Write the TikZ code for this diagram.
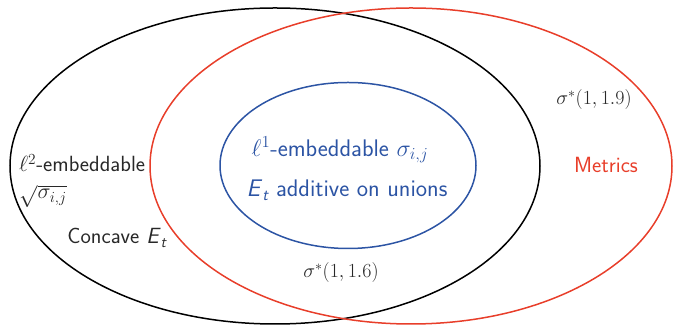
\RequirePackage{fix-cm}
\documentclass[tikz,border=0pt]{standalone}
\definecolor{vred}{RGB}{232,62,42}
\definecolor{vblue}{RGB}{44,84,164}
\definecolor{vtext}{RGB}{40,40,40}
\newcommand\Et{\textit{E}\textsubscript{\itshape t}}
\tikzset{
  setline/.style={line width=1.5pt},
  lbl/.style={inner sep=0pt, font=\fontsize{22}{26}\selectfont\sffamily, text=vtext},
  blbl/.style={inner sep=0pt, font=\fontsize{24}{28}\selectfont\sffamily, text=vblue},
  mlbl/.style={inner sep=0pt, font=\fontsize{20}{24}\selectfont, text=vtext},
}
\begin{document}
\begin{tikzpicture}[x=1pt,y=1pt]
\useasboundingbox (0,0) rectangle (673,331);
\draw[setline, black] (275,165) ellipse [x radius=265, y radius=158];
\draw[setline, vred] (411,165) ellipse [x radius=261, y radius=158];
\draw[setline, vblue] (348,165.5) ellipse [x radius=128, y radius=83];
\node[lbl, anchor=base west, align=left] (l2) at (19,132)
  {$\ell^2$-embeddable\\[1pt]$\sqrt{\sigma_{i,j}}$};
\node[lbl] (cc) at (117,93) {Concave \Et};
\node[blbl] (l1) at (340,181) {$\ell^1$-embeddable $\sigma_{i,j}$};
\node[blbl] (ad) at (347,141) {\Et{} additive on unions};
\node[mlbl] (s16) at (341,58) {$\sigma^*(1,1.6)$};
\node[mlbl] (s19) at (594,231) {$\sigma^*(1,1.9)$};
\node[lbl, text=vred] (mt) at (606,166) {Metrics};
\end{tikzpicture}
\end{document}
